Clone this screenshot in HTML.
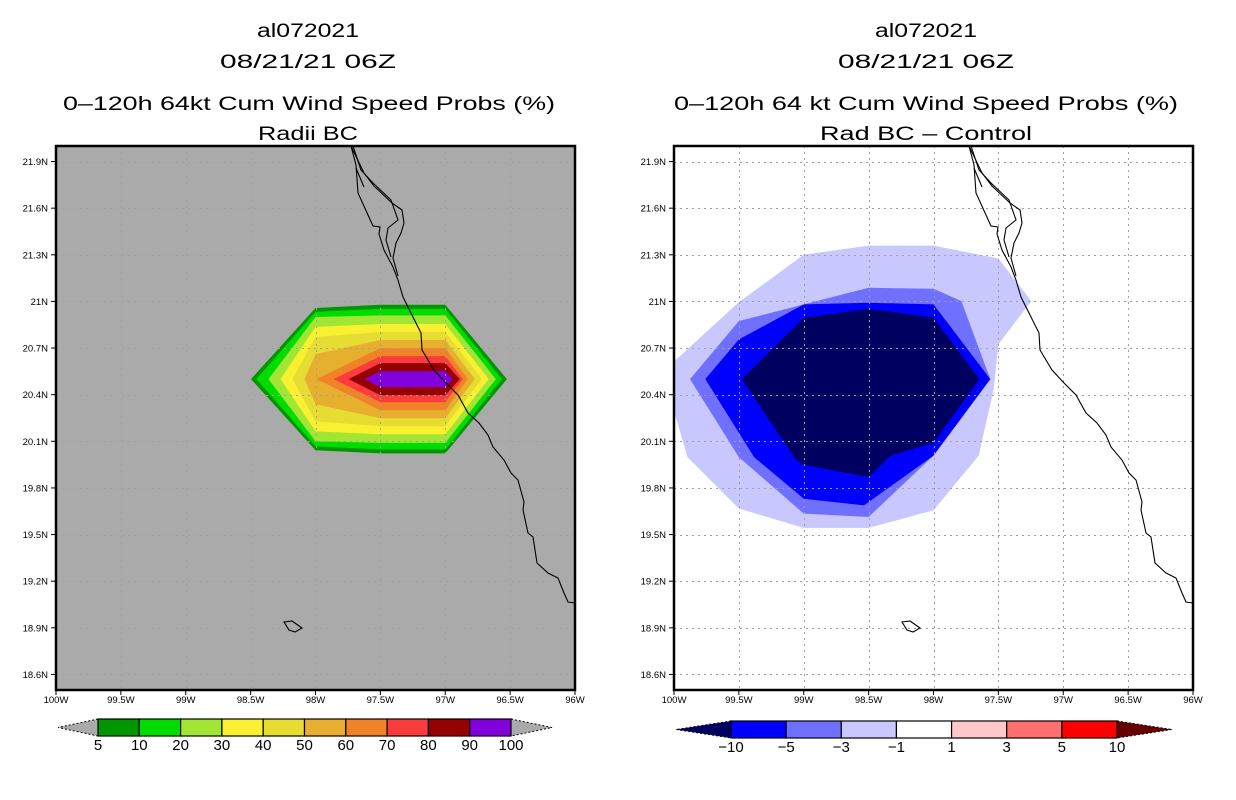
<!DOCTYPE html>
<html><head><meta charset="utf-8">
<style>
html,body{margin:0;padding:0;background:#fff;}
svg{display:block;}
text{font-family:"Liberation Sans",sans-serif;fill:#000;}
</style></head>
<body>
<svg id="chart" width="1236" height="800" viewBox="0 0 1236 800" xmlns="http://www.w3.org/2000/svg">
  <g font-size="19">
    <text x="308" y="37" text-anchor="middle" textLength="102" lengthAdjust="spacingAndGlyphs">al072021</text>
    <text x="308" y="68" text-anchor="middle" textLength="176" lengthAdjust="spacingAndGlyphs">08/21/21 06Z</text>
    <text x="309" y="110" text-anchor="middle" textLength="492" lengthAdjust="spacingAndGlyphs">0–120h 64kt Cum Wind Speed Probs (%)</text>
    <text x="308" y="140" text-anchor="middle" textLength="100" lengthAdjust="spacingAndGlyphs">Radii BC</text>
  </g>
  <g font-size="19">
    <text x="926" y="37" text-anchor="middle" textLength="102" lengthAdjust="spacingAndGlyphs">al072021</text>
    <text x="926" y="68" text-anchor="middle" textLength="176" lengthAdjust="spacingAndGlyphs">08/21/21 06Z</text>
    <text x="926" y="110" text-anchor="middle" textLength="504" lengthAdjust="spacingAndGlyphs">0–120h 64 kt Cum Wind Speed Probs (%)</text>
    <text x="926" y="140" text-anchor="middle" textLength="212" lengthAdjust="spacingAndGlyphs">Rad BC – Control</text>
  </g>
  <g id="leftPanel"></g>
  <g id="rightPanel"></g>
  <g id="leftBar"></g>
  <g id="rightBar"></g>
</svg>
<script>
// ---- Data ----
const lonTicks = [-100, -99.5, -99, -98.5, -98, -97.5, -97, -96.5, -96];
const lonTickLabels = ["100W","99.5W","99W","98.5W","98W","97.5W","97W","96.5W","96W"];
const latTicks = [18.6, 18.9, 19.2, 19.5, 19.8, 20.1, 20.4, 20.7, 21.0, 21.3, 21.6, 21.9];
const latTickLabels = ["18.6N","18.9N","19.2N","19.5N","19.8N","20.1N","20.4N","20.7N","21N","21.3N","21.6N","21.9N"];

// Left panel probability contour levels (5,10,20,...,90 %)
const probLevels = [5, 10, 20, 30, 40, 50, 60, 70, 80, 90];
const probColors = ["#009600","#00dc00","#a0e632","#faf032","#e6dc32","#e6af2d","#f08228","#fa3c3c","#960000","#8200dc"];
const probCenterLat = 20.5;
const probTipWest = [-98.497,-98.456,-98.363,-98.27,-98.178,-98.085,-97.992,-97.861,-97.745,-97.622];
const probTipEast = [-96.525,-96.564,-96.61,-96.664,-96.718,-96.772,-96.826,-96.865,-96.888,-96.942];
const probHalfAt98 = [0.458,0.433,0.40,0.336,0.271,0.161,null,null,null,null];
const probHalfAt975 = [0.478,0.452,0.41,0.355,0.303,0.252,0.20,0.148,0.103,0.052];
const probHalfAt97 = [0.478,0.452,0.41,0.355,0.303,0.252,0.20,0.148,0.103,0.052];
const probBarLabels = ["5","10","20","30","40","50","60","70","80","90","100"];

// Right panel difference contours (lon/lat vertices)
const diffColors = ["#c8c8ff","#7070ff","#0000ff","#000060"];
const diffLon1 = [-100.05,-99.5,-99.0,-98.5,-98.0,-97.5,-97.246,-97.5,-97.536,-97.652,-98.0,-98.5,-99.0,-99.5,-99.895,-100.05];
const diffLat1 = [20.575,20.996,21.301,21.359,21.359,21.276,21.002,20.724,20.436,20.008,19.656,19.543,19.543,19.667,19.998,20.436];
const diffLon3 = [-99.877,-99.5,-99.0,-98.5,-98.0,-97.785,-97.562,-98.0,-98.5,-99.0,-99.5];
const diffLat3 = [20.5,20.874,20.981,21.088,21.081,21.002,20.5,20.008,19.613,19.635,19.998];
const diffLon5 = [-99.759,-99.5,-99.0,-98.5,-98.0,-97.562,-98.0,-98.536,-99.0,-99.382];
const diffLat5 = [20.5,20.756,20.981,20.991,20.981,20.5,20.008,19.688,19.731,19.998];
const diffLon10 = [-99.477,-99.0,-98.5,-98.0,-97.646,-98.0,-98.331,-98.5,-99.0,-99.067];
const diffLat10 = [20.5,20.895,20.953,20.895,20.5,20.09,20.008,19.87,19.949,19.987];
const diffBarColors = ["#000060","#0000ff","#7070ff","#c8c8ff","#ffffff","#ffc8c8","#ff7070","#ff0000","#640000"];
const diffBarLabels = ["−10","−5","−3","−1","1","3","5","10"];

// ---- Geometry ----
const NS = "http://www.w3.org/2000/svg";
const PW = 519, PH = 544, LON0 = -100, LON1 = -96, LAT0 = 18.5, LAT1 = 22.0;
function mk(tag, attrs, parent){ const e=document.createElementNS(NS,tag); for(const k in attrs) e.setAttribute(k,attrs[k]); parent.appendChild(e); return e; }
function xS(lon){ return (lon-LON0)/(LON1-LON0)*PW; }
function yS(lat){ return (LAT1-lat)/(LAT1-LAT0)*PH; }

const coastMain = "M295,0 L300,19 L302,47 L317,80 L324,81 L323,88 L328,104 L337,121 L342,134 L347,151 L357,171 L365,187 L366,204 L378,224 L390,237 L402,249 L412,267 L423,277 L432,289 L437,301 L448,314 L455,327 L462,334 L468,356 L467,364 L472,387 L477,391 L481,417 L492,427 L502,432 L508,447 L512,456 L519,457";
const coastB1 = "M295,0 L308,27 L318,40 L336,57 L346,64 L348,77 L345,87 L340,97 L337,112 L342,130";
const coastB2 = "M297,0 L305,24 L317,37 L335,54 L342,74 L332,82 L330,94 L335,111";
const coastSpit = "M300,22 L308,41";
const island = "M228,476 L236,475 L246,482 L239,486 L233,484 Z";

function buildPanel(g, ox, oy, bg, side){
  g.setAttribute('transform', `translate(${ox},${oy})`);
  const clipId = side+'clip';
  const defs = mk('defs',{},g);
  const cp = mk('clipPath',{id:clipId},defs);
  mk('rect',{x:0,y:0,width:PW,height:PH},cp);
  const bgR = mk('rect',{x:0,y:0,width:PW,height:PH,fill:bg},g);
  
  
  const content = mk('g',{'clip-path':`url(#${clipId})`},g);
  
  
  return content;
}
function addGridAxes(g, content, side){
  const grid = mk('g',{stroke:'#a0a0a0','stroke-width':1,'stroke-dasharray':'2,4'},content);
  
  
  lonTicks.forEach(l=>{ const x=Math.round(xS(l))+0.5; mk('line',{x1:x,y1:0,x2:x,y2:PH},grid); });
  latTicks.forEach(l=>{ const y=Math.round(yS(l))+0.5; mk('line',{x1:0,y1:y,x2:PW,y2:y},grid); });
  const coast = mk('g',{fill:'none',stroke:'#000','stroke-width':1.1},content);
  
  
  [coastMain,coastB1,coastB2,coastSpit,island].forEach(d=>mk('path',{d:d},coast));
  const fr = mk('rect',{x:0,y:0,width:PW,height:PH,fill:'none',stroke:'#000','stroke-width':2.5},g);
  
  
  const ax = mk('g',{'font-size':9.5},g);
  
  
  latTicks.forEach((l,i)=>{
    const y=yS(l);
    mk('line',{x1:-5,y1:y,x2:0,y2:y,stroke:'#000'},ax);
    const t=mk('text',{x:-8,y:y+3.5,'text-anchor':'end'},ax);
    t.textContent=latTickLabels[i];
    
    
  });
  lonTicks.forEach((l,i)=>{
    const x=xS(l);
    mk('line',{x1:x,y1:PH,x2:x,y2:PH+5,stroke:'#000'},ax);
    const t=mk('text',{x:x,y:PH+13,'text-anchor':'middle'},ax);
    t.textContent=lonTickLabels[i];
    
    
  });
}

// Left panel
const lg = document.getElementById('leftPanel');
const lc = buildPanel(lg, 56, 146, '#aaaaaa', 'left');
probLevels.forEach((lev,i)=>{
  const pts=[[probTipWest[i],probCenterLat]];
  if(probHalfAt98[i]!==null) pts.push([-98,probCenterLat+probHalfAt98[i]]);
  pts.push([-97.5,probCenterLat+probHalfAt975[i]]);
  pts.push([-97,probCenterLat+probHalfAt97[i]]);
  pts.push([probTipEast[i],probCenterLat]);
  pts.push([-97,probCenterLat-probHalfAt97[i]]);
  pts.push([-97.5,probCenterLat-probHalfAt975[i]]);
  if(probHalfAt98[i]!==null) pts.push([-98,probCenterLat-probHalfAt98[i]]);
  const p=mk('polygon',{points:pts.map(q=>xS(q[0]).toFixed(1)+','+yS(q[1]).toFixed(1)).join(' '),fill:probColors[i]},lc);
  
  
});
addGridAxes(lg, lc, 'left');

// Right panel
const rg = document.getElementById('rightPanel');
const rc = buildPanel(rg, 674, 146, '#ffffff', 'right');
const diffSets = [[diffLon1,diffLat1,'diff-contour-minus1'],[diffLon3,diffLat3,'diff-contour-minus3'],[diffLon5,diffLat5,'diff-contour-minus5'],[diffLon10,diffLat10,'diff-contour-minus10']];
diffSets.forEach((s,i)=>{
  const pts=s[0].map((lo,j)=>xS(lo).toFixed(1)+','+yS(s[1][j]).toFixed(1)).join(' ');
  const p=mk('polygon',{points:pts,fill:diffColors[i]},rc);
  
  
});
addGridAxes(rg, rc, 'right');

// Colorbars
function colorbar(g, x0, x1, y0, h, tipL, tipR, colors, labels, lTipColor, rTipColor, side){
  const n = colors.length;
  const bw = (x1-x0)/n;
  const ym = y0+h/2;
  const lt=mk('polygon',{points:`${x0},${y0} ${tipL},${ym} ${x0},${y0+h}`,fill:lTipColor,stroke:'#000','stroke-dasharray':'2,2','stroke-width':1},g);
  
  
  const rt=mk('polygon',{points:`${x1},${y0} ${tipR},${ym} ${x1},${y0+h}`,fill:rTipColor,stroke:'#000','stroke-dasharray':'2,2','stroke-width':1},g);
  
  
  colors.forEach((c,i)=>{
    const r=mk('rect',{x:x0+i*bw,y:y0,width:bw,height:h,fill:c,stroke:'#000','stroke-width':1.2},g);
    
    
  });
  labels.forEach((t,i)=>{
    const x = labels.length===n+1 ? x0+i*bw : x0+(i+1)*bw;
    const e=mk('text',{x:x,y:y0+h+14,'text-anchor':'middle','font-size':15},g);
    e.textContent=t;
    
    
  });
}
colorbar(document.getElementById('leftBar'), 98, 511, 719, 17, 58, 552, probColors, probBarLabels, '#aaaaaa', '#aaaaaa', 'left');
colorbar(document.getElementById('rightBar'), 731, 1117, 721, 17, 676, 1172, diffBarColors.slice(1,8), diffBarLabels, diffBarColors[0], diffBarColors[8], 'right');
</script>
</body></html>
